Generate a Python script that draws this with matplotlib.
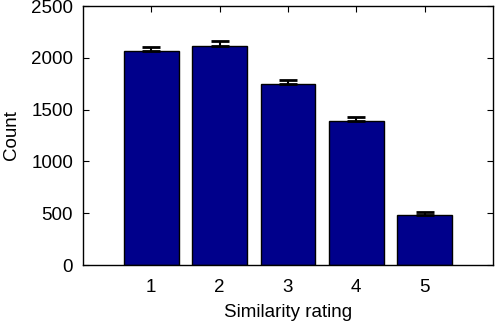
import matplotlib

matplotlib.use("Agg")
import matplotlib.pyplot as plt

ratings = [1, 2, 3, 4, 5]
counts = [2066, 2117, 1747, 1393, 480]
errors = [40, 42, 38, 40, 30]

plt.rcParams["font.family"] = ["Liberation Sans", "DejaVu Sans"]
plt.rcParams["font.size"] = 13

fig = plt.figure(figsize=(4.96, 3.22), dpi=100)
ax = fig.add_axes([0.167, 0.177, 0.827, 0.804])

ax.bar(ratings, counts, width=0.8, color="#00008B", edgecolor="black",
       linewidth=1.0, zorder=2)
ax.errorbar(ratings, counts, yerr=[[0] * len(errors), errors], fmt="none",
            ecolor="black", elinewidth=1.5, capsize=6.5, capthick=2.0,
            zorder=3)

ax.set_xlim(0, 6)
ax.set_ylim(0, 2500)
ax.set_xticks(ratings)
ax.set_yticks(range(0, 2501, 500))
ax.tick_params(direction="in", length=4, top=True, right=True, width=0.8,
               labelsize=13.5)
ax.tick_params(axis="x", pad=10)
ax.tick_params(axis="y", pad=7)
ax.set_xlabel("Similarity rating", fontsize=13.5, labelpad=6)
ax.set_ylabel("Count", fontsize=13.5, labelpad=8)
for s in ax.spines.values():
    s.set_linewidth(1.0)

fig.savefig("out.png", dpi=100)
